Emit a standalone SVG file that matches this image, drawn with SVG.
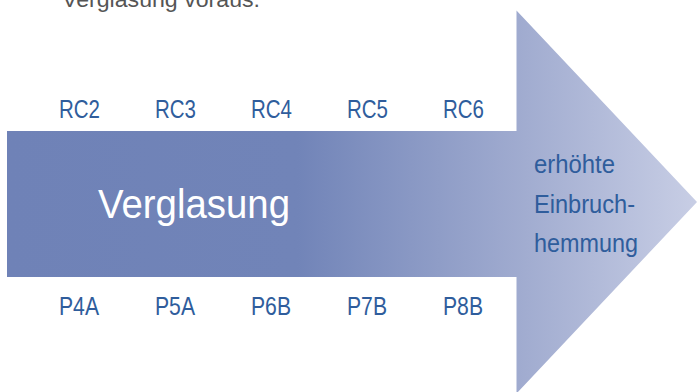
<svg xmlns="http://www.w3.org/2000/svg" width="697" height="392" viewBox="0 0 697 392">
<defs>
<linearGradient id="g" x1="7" y1="0" x2="697" y2="0" gradientUnits="userSpaceOnUse">
<stop offset="0" stop-color="#6f82b7"/>
<stop offset="0.42" stop-color="#7184b8"/>
<stop offset="0.75" stop-color="#a1acd0"/>
<stop offset="1" stop-color="#c8cee5"/>
</linearGradient>
</defs>
<style>
.t{font-family:"Liberation Sans",Arial,sans-serif;fill:#2f5d9c;font-size:25px}
.w{font-family:"Liberation Sans",Arial,sans-serif;fill:#ffffff;font-size:41px}
.g{font-family:"Liberation Sans",Arial,sans-serif;fill:#555555;font-size:22px}
</style>
<rect width="697" height="392" fill="#ffffff"/>
<text class="g" x="62" y="7" textLength="198" lengthAdjust="spacingAndGlyphs">Verglasung voraus.</text>
<g id="arrow">
<path d="M7 131 H516.5 V10.5 L697 202 L516.5 393.5 V277 H7 Z" fill="url(#g)"/>
<text class="w" x="98" y="218" textLength="192" lengthAdjust="spacingAndGlyphs">Verglasung</text>
<text class="t" x="534" y="173" textLength="81" lengthAdjust="spacingAndGlyphs">erhöhte</text>
<text class="t" x="534" y="213" textLength="101" lengthAdjust="spacingAndGlyphs">Einbruch-</text>
<text class="t" x="534" y="252" textLength="104" lengthAdjust="spacingAndGlyphs">hemmung</text>
</g>
<g id="rc">
<text class="t" x="59" y="118" textLength="41" lengthAdjust="spacingAndGlyphs">RC2</text>
<text class="t" x="155" y="118" textLength="41" lengthAdjust="spacingAndGlyphs">RC3</text>
<text class="t" x="251" y="118" textLength="41" lengthAdjust="spacingAndGlyphs">RC4</text>
<text class="t" x="347" y="118" textLength="41" lengthAdjust="spacingAndGlyphs">RC5</text>
<text class="t" x="443" y="118" textLength="41" lengthAdjust="spacingAndGlyphs">RC6</text>
</g>
<g id="p">
<text class="t" x="59" y="315" textLength="40" lengthAdjust="spacingAndGlyphs">P4A</text>
<text class="t" x="155" y="315" textLength="40" lengthAdjust="spacingAndGlyphs">P5A</text>
<text class="t" x="251" y="315" textLength="40" lengthAdjust="spacingAndGlyphs">P6B</text>
<text class="t" x="347" y="315" textLength="40" lengthAdjust="spacingAndGlyphs">P7B</text>
<text class="t" x="443" y="315" textLength="40" lengthAdjust="spacingAndGlyphs">P8B</text>
</g>
</svg>
